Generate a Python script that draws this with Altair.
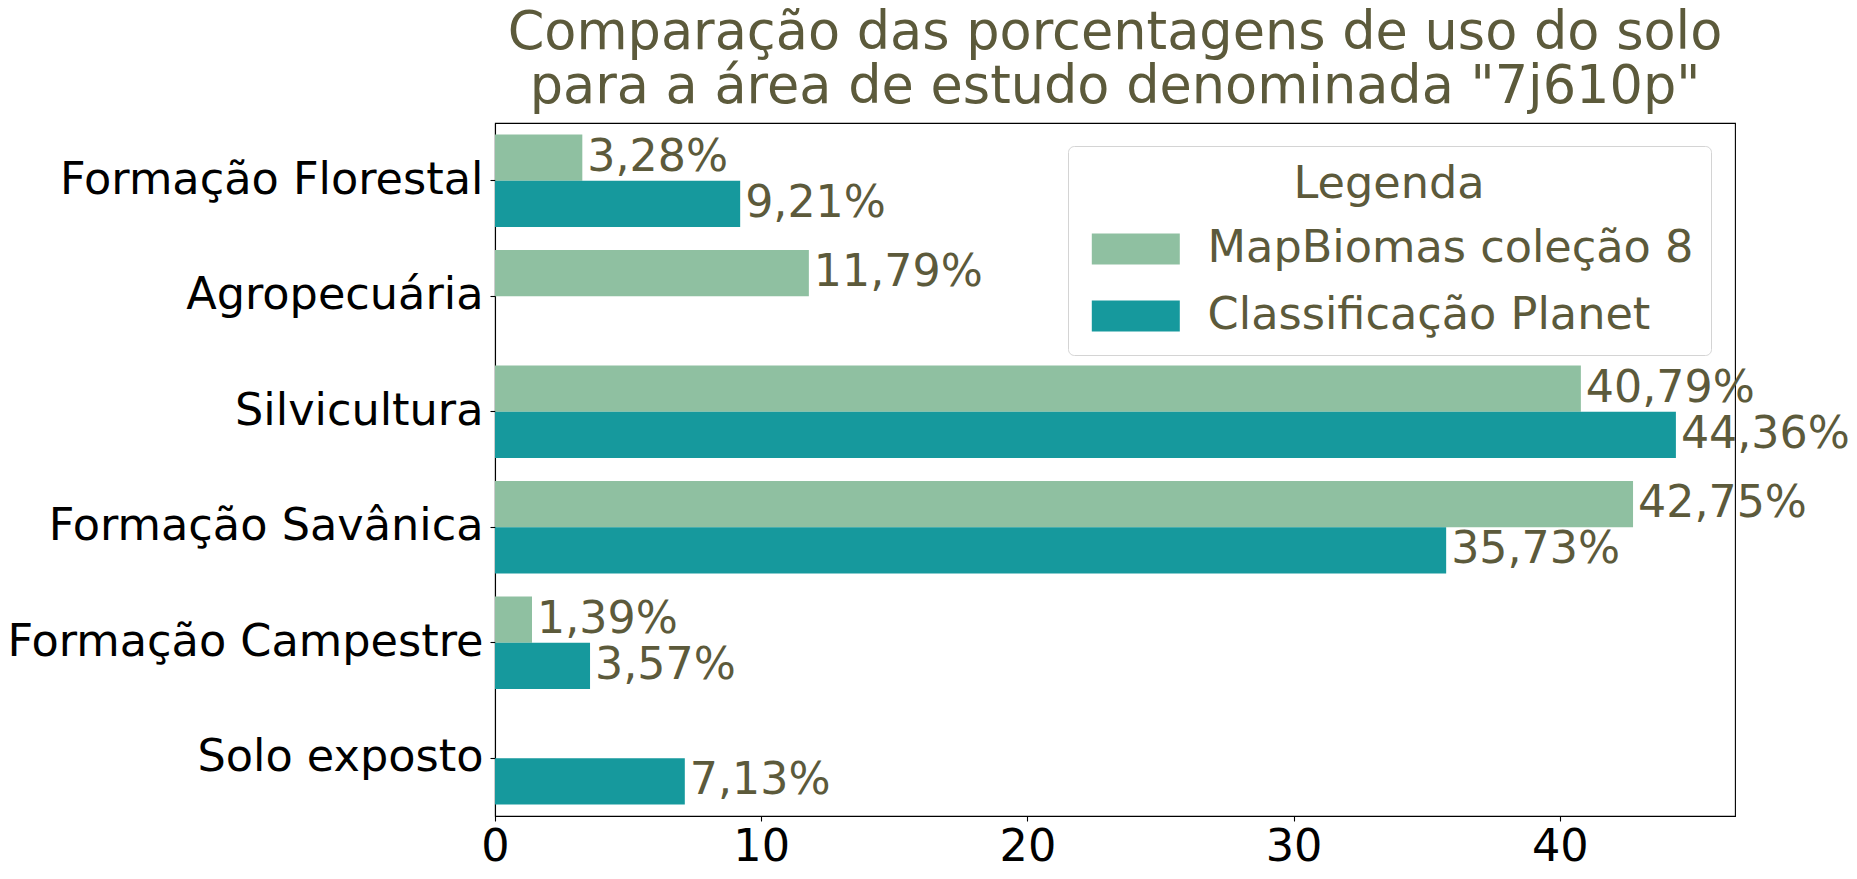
import altair as alt
import pandas as pd

categories = [
    "Formação Florestal",
    "Agropecuária",
    "Silvicultura",
    "Formação Savânica",
    "Formação Campestre",
    "Solo exposto",
]
series = ["MapBiomas coleção 8", "Classificação Planet"]
mapbiomas = [3.28, 11.79, 40.79, 42.75, 1.39, None]
planet = [9.21, None, 44.36, 35.73, 3.57, 7.13]
x_ticks = [0, 10, 20, 30, 40]
colors = ["#8fc0a1", "#16999d"]
title_lines = [
    "Comparação das porcentagens de uso do solo",
    'para a área de estudo denominada "7j610p"',
]

rows = []
for c, m, p in zip(categories, mapbiomas, planet):
    for s, v in ((series[0], m), (series[1], p)):
        if v is not None:
            rows.append({"cat": c, "serie": s, "valor": v,
                         "rotulo": f"{v:.2f}".replace(".", ",") + "%"})
df = pd.DataFrame(rows)

olive = "#5c5a3b"
font = "DejaVu Sans"

y = alt.Y(
    "cat:N", sort=categories, title=None,
    scale=alt.Scale(paddingInner=0.2, paddingOuter=0.1),
    axis=alt.Axis(labelFontSize=44.6, labelColor="black", labelFont=font,
                  tickSize=5, tickColor="black", tickWidth=1.1,
                  domainColor="black", domainWidth=1.1, labelPadding=7,
                  labelLimit=800),
)
yoff = alt.YOffset("serie:N", sort=series,
                   scale=alt.Scale(domain=series, paddingInner=0, paddingOuter=0))
x = alt.X(
    "valor:Q", title=None,
    scale=alt.Scale(domain=[0, 46.58], nice=False, zero=True),
    axis=alt.Axis(values=x_ticks, format="d", labelFontSize=44.6, labelColor="black",
                  labelFont=font, tickSize=5, tickColor="black", tickWidth=1.1,
                  domainColor="black", domainWidth=1.1, labelPadding=4,
                  grid=False, labelFlush=False, labelOverlap=False),
)

bars = alt.Chart(df).mark_bar(strokeWidth=0).encode(
    x=x, y=y, yOffset=yoff,
    color=alt.Color(
        "serie:N", sort=series,
        scale=alt.Scale(domain=series, range=colors),
        legend=alt.Legend(
            title="Legenda", orient="none", legendX=573, legendY=23,
            direction="vertical",
            titleFontSize=44.6, titleColor=olive, titleFont=font,
            titleFontWeight="normal", titleAnchor="middle", titleAlign="center",
            titleLimit=800,
            labelFontSize=44.6, labelColor=olive, labelFont=font, labelLimit=800,
            labelOffset=78,
            symbolType="M-1,-1H4.677V1H-1Z", symbolSize=961,
            symbolStrokeWidth=0, symbolOpacity=1,
            padding=17, rowPadding=22, titlePadding=19,
            strokeColor="#d4d4d4", fillColor="rgba(255,255,255,0.8)",
            cornerRadius=6,
        ),
    ),
)

text = alt.Chart(df).mark_text(
    align="left", baseline="middle", dx=5, fontSize=44.3, font=font, color=olive
).encode(x=x, y=y, yOffset=yoff, text="rotulo:N")

chart = (
    alt.layer(bars, text)
    .properties(
        width=1240, height=693,
        padding={"left": 495, "top": 123, "right": 122, "bottom": 63},
        autosize="none",
        title=alt.TitleParams(title_lines, fontSize=52.5, color=olive, font=font,
                              fontWeight="normal", anchor="middle",
                              lineHeight=54, offset=9),
    )
    .configure_view(stroke="black", strokeWidth=1.1)
)

chart.save("out.html", embed_options={"renderer": "svg", "actions": False})
